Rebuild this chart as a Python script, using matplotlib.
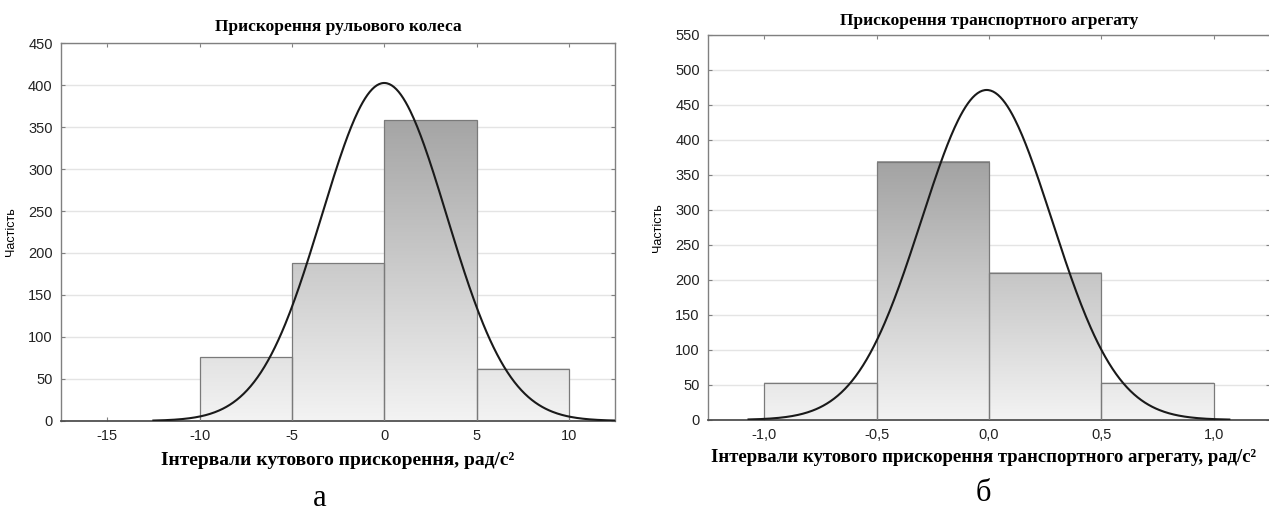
import numpy as np
import matplotlib
matplotlib.use("Agg")
import matplotlib.pyplot as plt
from matplotlib.colors import LinearSegmentedColormap
from matplotlib.ticker import FixedLocator, FuncFormatter

# Дані: ліва гістограма (прискорення рульового колеса)
edges_a = [-10, -5, 0, 5, 10]
counts_a = [76, 188, 358, 62]
mean_a, sigma_a = 0.0, 3.39

# Дані: права гістограма (прискорення транспортного агрегату)
edges_b = [-1.0, -0.5, 0.0, 0.5, 1.0]
counts_b = [53, 369, 210, 53]
mean_b, sigma_b = -0.01, 0.29

fig = plt.figure(figsize=(12.69, 5.19), dpi=100)

serif = ["Liberation Serif", "DejaVu Serif"]
sans = ["Liberation Sans", "DejaVu Sans"]
bar_cmap = LinearSegmentedColormap.from_list("bar", ["#f3f3f3", "#9c9c9c"])


def draw_panel(ax, edges, counts, mean, sigma, xlim, ylim, yticks, xticks, xfmt,
               curve_span, gmax):
    ax.set_axisbelow(True)
    ax.grid(axis="y", color="#e4e4e4", lw=1.0)
    # стовпці з градієнтом
    grad = np.linspace(0, 1, 256).reshape(-1, 1)
    for i, c in enumerate(counts):
        x0, x1 = edges[i], edges[i + 1]
        g = grad * (c / gmax)
        ax.imshow(g, extent=[x0, x1, 0, c], origin="lower", aspect="auto",
                  cmap=bar_cmap, vmin=0, vmax=1, zorder=2, interpolation="bilinear")
        ax.add_patch(plt.Rectangle((x0, 0), x1 - x0, c, fill=False,
                                   ec="#7a7a7a", lw=0.9, zorder=3))
    # нормальна крива
    n = sum(counts)
    bw = edges[1] - edges[0]
    xs = np.linspace(curve_span[0], curve_span[1], 400)
    ys = n * bw / (sigma * np.sqrt(2 * np.pi)) * np.exp(-(xs - mean) ** 2 / (2 * sigma ** 2))
    ax.plot(xs, ys, color="#1a1a1a", lw=1.5, zorder=4)
    ax.set_xlim(*xlim)
    ax.set_ylim(*ylim)
    ax.xaxis.set_major_locator(FixedLocator(xticks))
    ax.xaxis.set_major_formatter(FuncFormatter(xfmt))
    ax.set_yticks(yticks)
    for s in ax.spines.values():
        s.set_color("#808080")
        s.set_linewidth(1.0)
    ax.spines["bottom"].set_color("#505050")
    ax.spines["bottom"].set_linewidth(1.3)
    ax.tick_params(direction="in", length=3, color="#808080", top=True, right=True,
                   labelsize=10.5, pad=6)
    for lab in ax.get_xticklabels() + ax.get_yticklabels():
        lab.set_family(sans)
        lab.set_color("#222222")
    ax.set_ylabel("Частість", family=sans, fontsize=9, labelpad=8)


ax1 = fig.add_axes([0.0481, 0.189, 0.4366, 0.728])
draw_panel(ax1, edges_a, counts_a, mean_a, sigma_a, (-17.5, 12.5), (0, 450),
           range(0, 451, 50), [-15, -10, -5, 0, 5, 10], lambda v, p: f"{v:.0f}",
           (-12.5, 12.5), 400)
ax1.set_title("Прискорення рульового колеса", family=serif, fontweight="bold",
              fontsize=12.5, pad=9)
ax1.set_xlabel("Інтервали кутового прискорення, рад/с²", family=serif,
               fontweight="bold", fontsize=14, labelpad=6)
fig.text(0.252, 0.025, "а", family=serif, fontsize=22, ha="center")

ax2 = fig.add_axes([0.558, 0.191, 0.4426, 0.742])
draw_panel(ax2, edges_b, counts_b, mean_b, sigma_b, (-1.25, 1.25), (0, 550),
           range(0, 551, 50), [-1.0, -0.5, 0.0, 0.5, 1.0],
           lambda v, p: f"{v:.1f}".replace(".", ","), (-1.07, 1.07), 400)
ax2.spines["right"].set_visible(False)
ax2.set_title("Прискорення транспортного агрегату", family=serif, fontweight="bold",
              fontsize=12.5, pad=7)
ax2.set_xlabel("Інтервали кутового прискорення транспортного агрегату, рад/с²",
               family=serif, fontweight="bold", fontsize=13.5, labelpad=4)
ax2.xaxis.set_label_coords(0.49, -0.075)
fig.text(0.775, 0.035, "б", family=serif, fontsize=22, ha="center")

fig.savefig("out.png", dpi=100)
